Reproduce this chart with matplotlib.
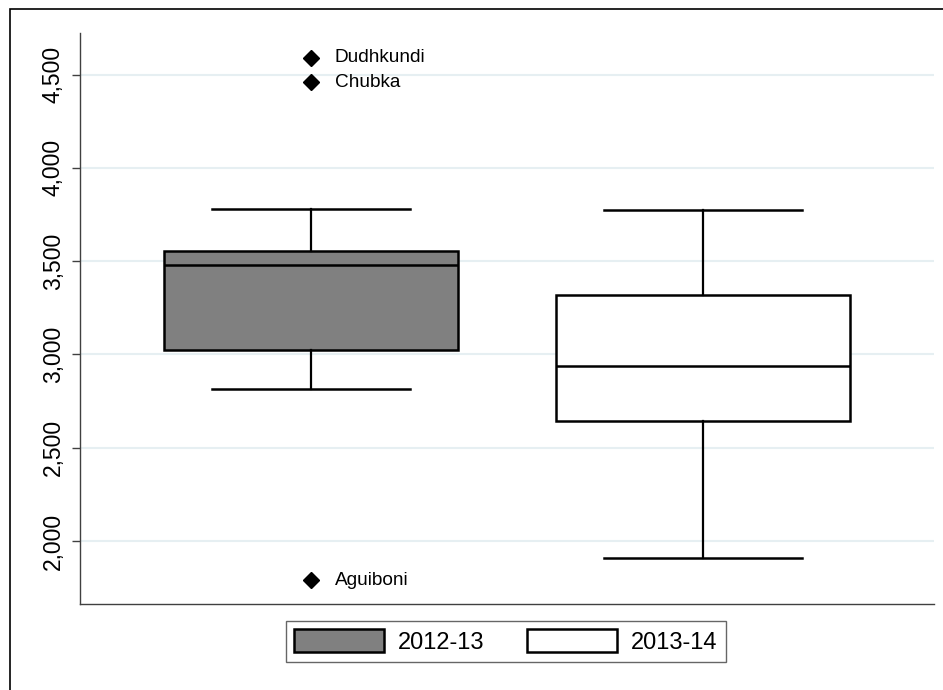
import matplotlib
matplotlib.use("Agg")
import matplotlib.pyplot as plt
from matplotlib.patches import Patch, Rectangle
from matplotlib.ticker import FuncFormatter

plt.rcParams['font.family'] = ['Liberation Sans', 'DejaVu Sans']

# --- data ---
years = ["2012-13", "2013-14"]
q1 = [3023, 2641]
median = [3477, 2937]
q3 = [3554, 3318]
whisker_low = [2816, 1909]
whisker_high = [3779, 3775]
box_colors = ["#808080", "#ffffff"]

outlier_names = ["Dudhkundi", "Chubka", "Aguiboni"]
outlier_values = [4591, 4459, 1791]
outlier_group = [1, 1, 1]

yticks = [2000, 2500, 3000, 3500, 4000, 4500]

# --- figure ---
fig = plt.figure(figsize=(9.43, 6.9), dpi=100)
ax = fig.add_axes([80 / 943, 1 - 603.7 / 690, (934 - 80) / 943, (603.7 - 33) / 690])

# outer frame (stata graph region border)
fig.patches.append(Rectangle((10 / 943, -0.1), 1.2, 1 - 9 / 690 + 0.1,
                             transform=fig.transFigure, fill=False,
                             edgecolor="black", linewidth=1.2, zorder=0))

stats = []
for i in range(len(years)):
    stats.append(dict(med=median[i], q1=q1[i], q3=q3[i],
                      whislo=whisker_low[i], whishi=whisker_high[i],
                      fliers=[], label=years[i]))

bp = ax.bxp(stats, positions=[1, 2], widths=0.752, patch_artist=True,
            showfliers=False, manage_ticks=False,
            boxprops=dict(linewidth=1.8, edgecolor="black"),
            medianprops=dict(color="black", linewidth=1.8),
            whiskerprops=dict(color="black", linewidth=1.6),
            capprops=dict(color="black", linewidth=1.8),
            capwidths=0.505)
for patch, c in zip(bp["boxes"], box_colors):
    patch.set_facecolor(c)

# labelled outside values
for name, val, g in zip(outlier_names, outlier_values, outlier_group):
    ax.plot(g, val, marker="D", color="black", markersize=8.5, linestyle="none", zorder=5)
    ax.annotate(name, (g, val), xytext=(17, 0), textcoords="offset points",
                va="center", ha="left", fontsize=13.7)

ax.set_xlim(0.411, 2.589)
ax.set_ylim(1664, 4723)
ax.set_yticks(yticks)
ax.yaxis.set_major_formatter(FuncFormatter(lambda v, p: f"{int(v):,}"))
ax.set_xticks([])
ax.grid(axis="y", color="#e6eff2", linewidth=1.5, zorder=0)
ax.set_axisbelow(True)

for s in ["top", "right"]:
    ax.spines[s].set_visible(False)
for s in ["left", "bottom"]:
    ax.spines[s].set_color("#404040")
    ax.spines[s].set_linewidth(1.0)

ax.tick_params(axis="y", length=6, width=1, color="#404040", pad=5, labelsize=16.5)
for lab in ax.get_yticklabels():
    lab.set_rotation(90)
    lab.set_va("center")

handles = [Patch(facecolor=c, edgecolor="black", linewidth=1.8) for c in box_colors]
leg = fig.legend(handles, years, loc="center", bbox_to_anchor=(506 / 943, 1 - 641.5 / 690),
                 ncol=2, fontsize=17, frameon=True, fancybox=False,
                 handlelength=3.8, handleheight=1.1, handletextpad=0.6,
                 columnspacing=1.8, borderpad=0.35)
leg.get_frame().set_edgecolor("#404040")
leg.get_frame().set_linewidth(1.0)

fig.savefig("out.png", dpi=100)
